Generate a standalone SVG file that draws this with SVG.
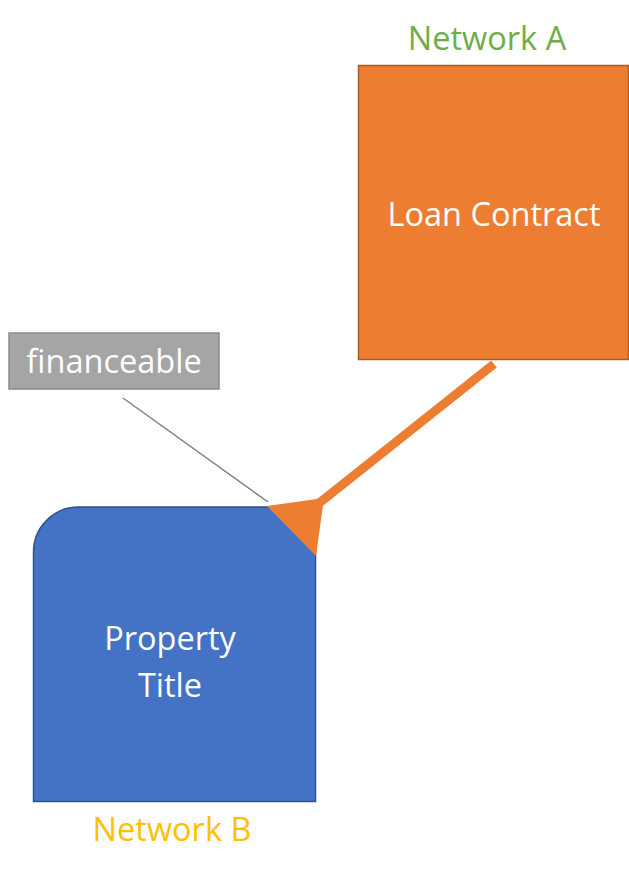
<svg xmlns="http://www.w3.org/2000/svg" width="629" height="874" viewBox="0 0 629 874">
<style>
.t{font-family:"Open Sans","Noto Sans","Liberation Sans",sans-serif;text-anchor:middle;font-size:32.5px}
.w{fill:#ffffff}
</style>
<rect width="629" height="874" fill="#ffffff"/>
<g id="loan-contract">
<rect x="358.5" y="65.5" width="270" height="294" fill="#ed7d31" stroke="#ae5a21" stroke-width="1.5"/>
<text class="t w" x="494" y="226">Loan Contract</text>
</g>
<g id="network-a"><text class="t" x="487" y="50" fill="#70ad47">Network A</text></g>
<g id="property-title">
<path d="M33.5,801.5 V552 A45,45 0 0 1 78.5,507 H315.5 V801.5 Z" fill="#4472c4" stroke="#2f528f" stroke-width="1.5"/>
<text class="t w" x="170" y="650">Property</text>
<text class="t w" x="170" y="697">Title</text>
</g>
<g id="network-b"><text class="t" x="172" y="841" fill="#ffc000">Network B</text></g>
<g id="financeable">
<rect x="9" y="333" width="210" height="56" fill="#a5a5a5" stroke="#8a8a8a" stroke-width="1.5"/>
<text class="t w" x="114" y="373">financeable</text>
</g>
<g id="connectors">
<line x1="123" y1="398" x2="268" y2="502" stroke="#7f7f7f" stroke-width="1.5"/>
<line x1="494" y1="364" x2="318" y2="504" stroke="#ed7d31" stroke-width="9"/>
<polygon points="267,506 324,498 316,556" fill="#ed7d31"/>
</g>
</svg>
